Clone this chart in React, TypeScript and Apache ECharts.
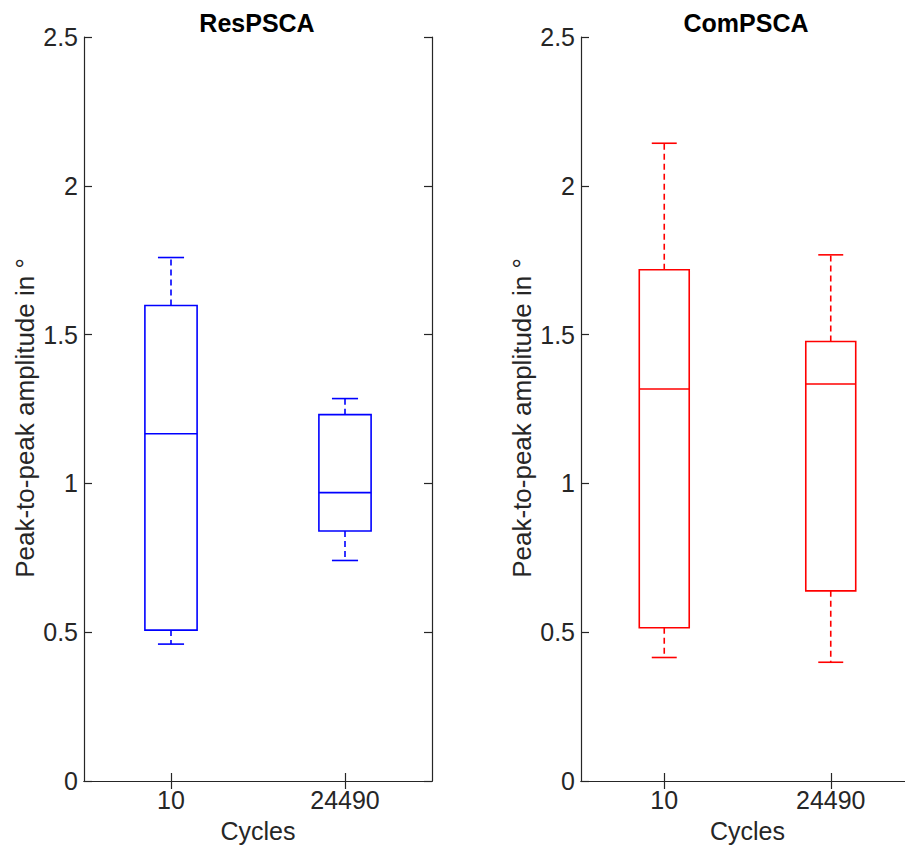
import React, { useEffect, useRef } from "react";
import * as echarts from "echarts";

const categories = ["10", "24490"];
const yMin = 0;
const yMax = 2.5;
const yInterval = 0.5;

// ResPSCA (blue)
const resLow = [0.46, 0.741];
const resQ1 = [0.507, 0.84];
const resMedian = [1.167, 0.969];
const resQ3 = [1.598, 1.231];
const resHigh = [1.759, 1.285];

// ComPSCA (red)
const comLow = [0.415, 0.399];
const comQ1 = [0.515, 0.639];
const comMedian = [1.317, 1.334];
const comQ3 = [1.718, 1.477];
const comHigh = [2.143, 1.768];

const FONT = "Liberation Sans, Arial, Helvetica, sans-serif";
const AXIS_COLOR = "#262626";
const LABEL_SIZE = 25;

function rows(low: number[], q1: number[], med: number[], q3: number[], high: number[]) {
  return categories.map((_, i) => [i, low[i], q1[i], med[i], q3[i], high[i]]);
}

function makeRenderItem(color: string) {
  return (params: any, api: any) => {
    const x = api.value(0);
    const band = api.size([1, 0])[0];
    const boxW = band * 0.3;
    const capW = boxW / 2;
    const cx = api.coord([x, api.value(1)])[0];
    const yLow = api.coord([x, api.value(1)])[1];
    const yQ1 = api.coord([x, api.value(2)])[1];
    const yMed = api.coord([x, api.value(3)])[1];
    const yQ3 = api.coord([x, api.value(4)])[1];
    const yHigh = api.coord([x, api.value(5)])[1];
    const solid = { stroke: color, lineWidth: 1.6, fill: "none" };
    const dashed = { stroke: color, lineWidth: 1.6, fill: "none", lineDash: [6, 4] };
    return {
      type: "group",
      children: [
        { type: "line", shape: { x1: cx, y1: yQ3, x2: cx, y2: yHigh }, style: dashed },
        { type: "line", shape: { x1: cx, y1: yQ1, x2: cx, y2: yLow }, style: dashed },
        { type: "line", shape: { x1: cx - capW / 2, y1: yHigh, x2: cx + capW / 2, y2: yHigh }, style: solid },
        { type: "line", shape: { x1: cx - capW / 2, y1: yLow, x2: cx + capW / 2, y2: yLow }, style: solid },
        { type: "rect", shape: { x: cx - boxW / 2, y: yQ3, width: boxW, height: yQ1 - yQ3 }, style: solid },
        { type: "line", shape: { x1: cx - boxW / 2, y1: yMed, x2: cx + boxW / 2, y2: yMed }, style: solid },
      ],
    };
  };
}

function xAxes(gridIndex: number) {
  const line = { show: true, lineStyle: { color: AXIS_COLOR, width: 1.2 } };
  const tick = { show: true, inside: true, alignWithLabel: true, length: 8, lineStyle: { color: AXIS_COLOR, width: 1.2 } };
  return [
    {
      gridIndex,
      type: "category",
      data: categories,
      position: "bottom",
      axisLine: line,
      axisTick: tick,
      axisLabel: { fontSize: LABEL_SIZE, color: AXIS_COLOR, fontFamily: FONT, margin: 6 },
      splitLine: { show: false },
      name: "Cycles",
      nameLocation: "middle",
      nameGap: 37,
      nameTextStyle: { fontSize: LABEL_SIZE, color: AXIS_COLOR, fontFamily: FONT },
    },
    {
      gridIndex,
      type: "category",
      data: categories,
      position: "top",
      axisLine: line,
      axisTick: tick,
      axisLabel: { show: false },
      splitLine: { show: false },
    },
  ];
}

function yAxes(gridIndex: number) {
  const line = { show: true, lineStyle: { color: AXIS_COLOR, width: 1.2 } };
  const tick = { show: true, inside: true, length: 8, lineStyle: { color: AXIS_COLOR, width: 1.2 } };
  return [
    {
      gridIndex,
      type: "value",
      min: yMin,
      max: yMax,
      interval: yInterval,
      position: "left",
      axisLine: line,
      axisTick: tick,
      axisLabel: { fontSize: LABEL_SIZE, color: AXIS_COLOR, fontFamily: FONT, margin: 6 },
      splitLine: { show: false },
      name: "Peak-to-peak amplitude in °",
      nameLocation: "middle",
      nameGap: 46,
      nameTextStyle: { fontSize: 26, color: AXIS_COLOR, fontFamily: FONT, padding: [0, 18, 0, 0] },
    },
    {
      gridIndex,
      type: "value",
      min: yMin,
      max: yMax,
      interval: yInterval,
      position: "right",
      axisLine: line,
      axisTick: tick,
      axisLabel: { show: false },
      splitLine: { show: false },
    },
  ];
}

export default function App() {
  const ref = useRef<HTMLDivElement>(null);
  useEffect(() => {
    if (!ref.current) return;
    const chart = echarts.init(ref.current, null, { renderer: "svg" });
    chart.setOption({
      animation: false,
      backgroundColor: "#ffffff",
      grid: [
        { left: 84, top: 37, width: 348, height: 744, containLabel: false, outerBoundsMode: "none" },
        { left: 581, top: 37, width: 333, height: 744, containLabel: false, outerBoundsMode: "none" },
      ],
      xAxis: [...xAxes(0), ...xAxes(1)],
      yAxis: [...yAxes(0), ...yAxes(1)],
      graphic: [
        {
          type: "text",
          x: 257,
          y: 23,
          style: { text: "ResPSCA", fontSize: 25, fontWeight: "bold", fill: "#000", fontFamily: FONT, textAlign: "center", textVerticalAlign: "middle" },
        },
        {
          type: "text",
          x: 746,
          y: 23,
          style: { text: "ComPSCA", fontSize: 25, fontWeight: "bold", fill: "#000", fontFamily: FONT, textAlign: "center", textVerticalAlign: "middle" },
        },
      ],
      series: [
        {
          name: "ResPSCA",
          type: "custom",
          xAxisIndex: 0,
          yAxisIndex: 0,
          renderItem: makeRenderItem("#0000ff"),
          encode: { x: 0, y: [1, 2, 3, 4, 5] },
          data: rows(resLow, resQ1, resMedian, resQ3, resHigh),
        },
        {
          name: "ComPSCA",
          type: "custom",
          xAxisIndex: 2,
          yAxisIndex: 2,
          renderItem: makeRenderItem("#ff0000"),
          encode: { x: 0, y: [1, 2, 3, 4, 5] },
          data: rows(comLow, comQ1, comMedian, comQ3, comHigh),
        },
      ],
    });
    return () => chart.dispose();
  }, []);
  return <div ref={ref} style={{ position: "fixed", left: 0, top: 0, width: 905, height: 845 }} />;
}
